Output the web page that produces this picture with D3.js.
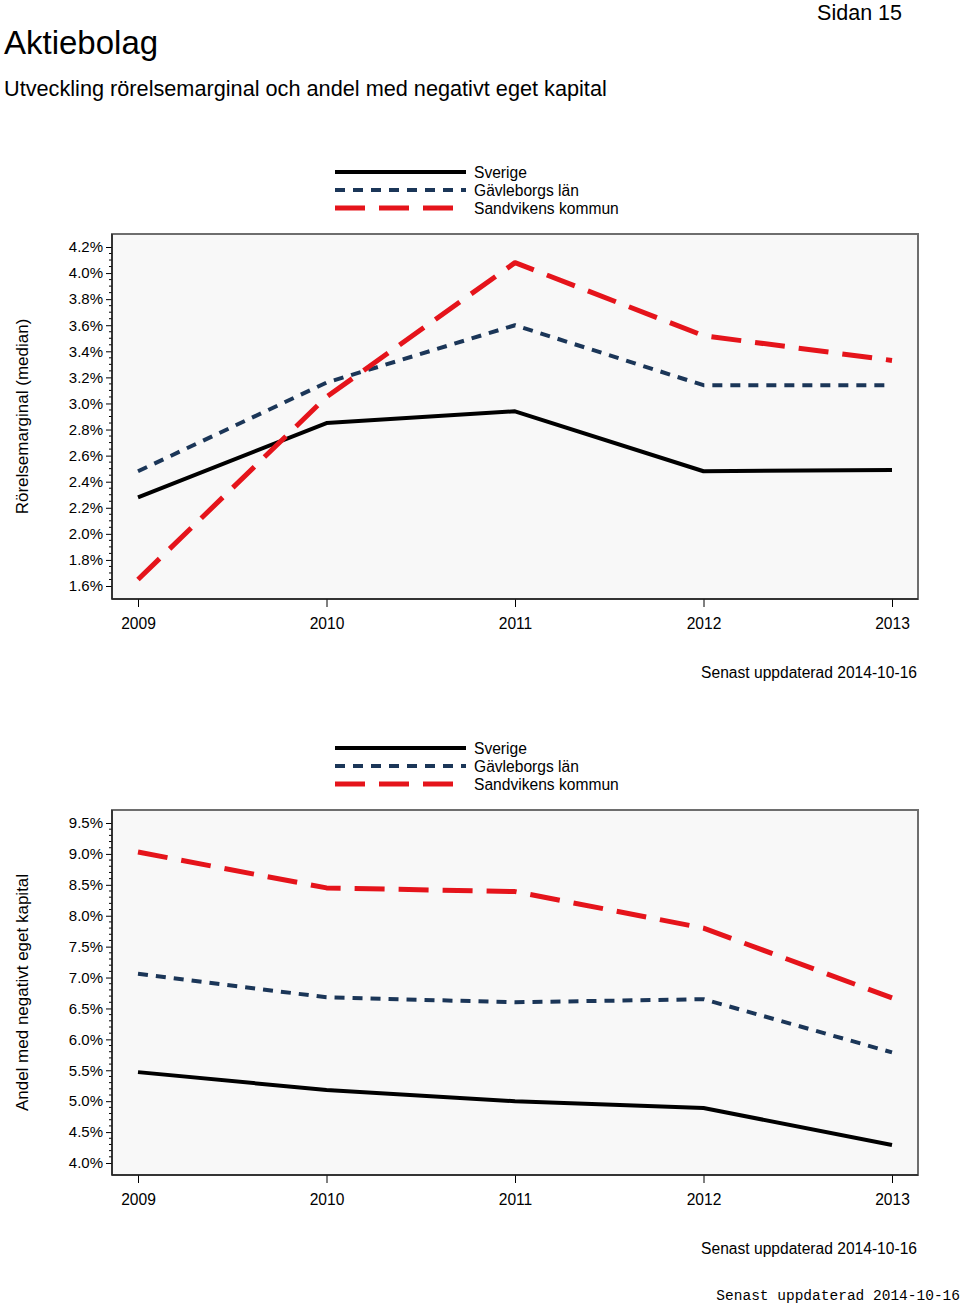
<!DOCTYPE html>
<html><head><meta charset="utf-8">
<script src="https://cdn.jsdelivr.net/npm/d3@7"></script>
<style>
body{margin:0;background:#fff;}
svg text{font-family:"Liberation Sans",Arial,sans-serif;fill:#000;}
</style></head>
<body>
<svg id="c" width="960" height="1306"></svg>
<script>
const years = [2009, 2010, 2011, 2012, 2013];
const seriesNames = ["Sverige", "Gävleborgs län", "Sandvikens kommun"];

// Chart 1: Rörelsemarginal (median), %
const margSverige = [2.28, 2.85, 2.94, 2.48, 2.49];
const margGavleborg = [2.48, 3.16, 3.60, 3.14, 3.14];
const margSandviken = [1.65, 3.05, 4.08, 3.52, 3.33];
const margTicks = [1.6, 1.8, 2.0, 2.2, 2.4, 2.6, 2.8, 3.0, 3.2, 3.4, 3.6, 3.8, 4.0, 4.2];

// Chart 2: Andel med negativt eget kapital, %
const negSverige = [5.47, 5.18, 5.00, 4.89, 4.29];
const negGavleborg = [7.06, 6.68, 6.60, 6.65, 5.79];
const negSandviken = [9.03, 8.45, 8.39, 7.80, 6.67];
const negTicks = [4.0, 4.5, 5.0, 5.5, 6.0, 6.5, 7.0, 7.5, 8.0, 8.5, 9.0, 9.5];

const styles = [
  {color:"#000000", width:4, dash:null},
  {color:"#1b3658", width:4, dash:"10,8"},
  {color:"#e5141b", width:5, dash:"30,14"}
];

const svg = d3.select("#c");

svg.append("text").attr("x",4).attr("y",54).attr("font-size",33).text("Aktiebolag");
svg.append("text").attr("x",4).attr("y",96).attr("font-size",21.7).text("Utveckling rörelsemarginal och andel med negativt eget kapital");
svg.append("text").attr("x",902).attr("y",20).attr("font-size",21.5).attr("text-anchor","end").text("Sidan 15");

function drawChart(opts){
  const {top, label, ticks, minor, data, fmt} = opts;
  const left=112, right=918, bottom=top+365;
  const g = svg.append("g");

  // legend
  const legY = top-62;
  seriesNames.forEach((n,i)=>{
    const y = legY + i*18;
    g.append("line").attr("x1",335).attr("x2",466).attr("y1",y).attr("y2",y)
      .attr("stroke",styles[i].color).attr("stroke-width",styles[i].width)
      .attr("stroke-dasharray",styles[i].dash);
    g.append("text").attr("x",474).attr("y",y+6).attr("font-size",15.6).text(n);
  });

  // frame
  g.append("rect").attr("x",left).attr("y",top).attr("width",right-left).attr("height",bottom-top)
    .attr("fill","#f8f8f8").attr("stroke","#6e6e6e").attr("stroke-width",2);

  const x = d3.scalePoint().domain(years).range([138,892]);
  const y = d3.scaleLinear().domain([ticks[0], ticks[ticks.length-1]]).range(opts.yRange);

  // y axis
  const yAxis = d3.axisLeft(y).tickValues(ticks).tickFormat(d=>d3.format(fmt)(d)+"%").tickSizeOuter(0).tickSize(6).tickPadding(3);
  const ya = g.append("g").attr("transform",`translate(${left},0)`).call(yAxis);
  ya.select(".domain").remove();
  ya.selectAll("text").attr("font-size",15).attr("font-family","Liberation Sans, Arial, sans-serif");
  // minor ticks
  const minorVals = d3.range(ticks[0], ticks[ticks.length-1]+1e-9, minor).filter(v=>!ticks.some(t=>Math.abs(t-v)<1e-6));
  g.selectAll(null).data(minorVals).enter().append("line")
    .attr("x1",left-3).attr("x2",left).attr("y1",d=>y(d)).attr("y2",d=>y(d))
    .attr("stroke","#000").attr("stroke-width",1);
  g.append("line").attr("x1",left).attr("x2",left).attr("y1",top).attr("y2",bottom).attr("stroke","#222").attr("stroke-width",1.5);

  // x axis
  const xAxis = d3.axisBottom(x).tickSize(8).tickPadding(11).tickSizeOuter(0);
  const xa = g.append("g").attr("transform",`translate(0,${bottom})`).call(xAxis);
  xa.select(".domain").remove();
  xa.selectAll("text").attr("font-size",15.6).attr("font-family","Liberation Sans, Arial, sans-serif");
  g.append("line").attr("x1",left).attr("x2",right).attr("y1",bottom).attr("y2",bottom).attr("stroke","#222").attr("stroke-width",1.5);

  // lines
  const line = d3.line().x((d,i)=>x(years[i])).y(d=>y(d));
  data.forEach((s,i)=>{
    g.append("path").datum(s).attr("d",line).attr("fill","none")
      .attr("stroke",styles[i].color).attr("stroke-width",styles[i].width)
      .attr("stroke-dasharray",styles[i].dash).attr("stroke-linejoin","round");
  });

  // y label
  g.append("text").attr("transform",`translate(28,${(top+bottom)/2}) rotate(-90)`)
    .attr("text-anchor","middle").attr("font-size",17).text(label);

  g.append("text").attr("x",917).attr("y",bottom+79).attr("text-anchor","end").attr("font-size",15.6).text("Senast uppdaterad 2014-10-16");
}

drawChart({top:234, label:"Rörelsemarginal (median)", ticks:margTicks, minor:0.05, fmt:".1f",
  yRange:[586,247], data:[margSverige, margGavleborg, margSandviken]});
drawChart({top:810, label:"Andel med negativt eget kapital", ticks:negTicks, minor:0.1, fmt:".1f",
  yRange:[1163,823], data:[negSverige, negGavleborg, negSandviken]});

svg.append("text").attr("x",960).attr("y",1300).attr("text-anchor","end")
  .attr("font-size",14.5).style("font-family","'Liberation Mono', 'Courier New', monospace").text("Senast uppdaterad 2014-10-16");
</script>
</body></html>
